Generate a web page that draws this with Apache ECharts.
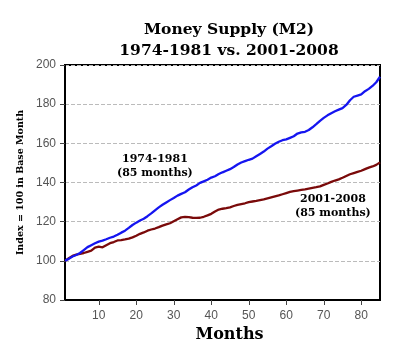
<!DOCTYPE html>
<html>
<head>
<meta charset="utf-8">
<script src="https://cdn.jsdelivr.net/npm/echarts@6/dist/echarts.min.js"></script>
<style>
  html, body { margin: 0; padding: 0; background: #fff; }
  #chart { width: 400px; height: 352px; }
</style>
</head>
<body>
<div id="chart"></div>
<script>
// 月份 1..85
const months = Array.from({ length: 85 }, (_, i) => i + 1)

// 1974-1981 (蓝线)
const m2_1974 = [
  100.0, 101.0, 102.2, 103.0, 104.0, 105.5, 107.0, 108.0, 109.0, 109.8,
  110.3, 111.0, 111.8, 112.4, 113.3, 114.4, 115.4, 116.8, 118.3, 119.5,
  120.6, 121.5, 122.8, 124.2, 125.8, 127.3, 128.6, 129.8, 131.0, 132.1,
  133.3, 134.2, 135.0, 136.4, 137.6, 138.5, 139.8, 140.6, 141.4, 142.5,
  143.2, 144.3, 145.2, 146.0, 146.8, 147.9, 149.2, 150.2, 150.9, 151.6,
  152.2, 153.4, 154.6, 155.8, 157.3, 158.5, 159.8, 160.8, 161.6, 162.0,
  162.8, 163.6, 165.0, 165.6, 165.9, 166.8, 168.2, 169.8, 171.5, 173.0,
  174.3, 175.4, 176.4, 177.2, 178.0, 179.6, 182.0, 183.8, 184.4, 185.0,
  186.6, 187.8, 189.3, 191.2, 194.0
]

// 2001-2008 (红线)
const m2_2001 = [
  100.0, 101.3, 102.5, 103.2, 103.6, 104.0, 104.6, 105.2, 106.8, 107.2,
  106.9, 108.0, 109.0, 109.6, 110.4, 110.6, 110.9, 111.3, 112.0, 112.8,
  113.8, 114.5, 115.4, 116.0, 116.5, 117.2, 118.0, 118.6, 119.2, 120.2,
  121.2, 122.2, 122.5, 122.3, 122.0, 121.9, 122.0, 122.5, 123.2, 124.0,
  125.2, 126.2, 126.6, 126.9, 127.3, 128.0, 128.6, 129.0, 129.4, 130.0,
  130.3, 130.6, 131.0, 131.4, 131.9, 132.4, 132.9, 133.4, 134.0, 134.6,
  135.2, 135.6, 135.9, 136.2, 136.5, 136.9, 137.3, 137.6, 138.0, 138.8,
  139.5, 140.3, 141.0, 141.6, 142.4, 143.3, 144.2, 144.8, 145.4, 146.0,
  146.8, 147.6, 148.2, 149.0, 150.3
]

const xTicks = [10, 20, 30, 40, 50, 60, 70, 80]

const serif = '"DejaVu Serif", serif'

let option = {
  animation: false,
  title: {
    text: 'Money Supply (M2)\n1974-1981 vs. 2001-2008',
    left: 224,
    top: 14,
    textAlign: 'center',
    textStyle: {
      fontFamily: serif,
      fontWeight: 'bold',
      fontSize: 15.5,
      lineHeight: 21,
      color: '#000',
    },
  },
  grid: {
    left: 65,
    right: 20,
    top: 65,
    bottom: 52,
    show: true,
    borderColor: '#000',
    borderWidth: 2,
  },
  xAxis: {
    type: 'value',
    min: 1,
    max: 85,
    name: 'Months',
    nameLocation: 'middle',
    nameGap: 26,
    nameTextStyle: {
      fontFamily: serif,
      fontWeight: 'bold',
      fontSize: 16,
      color: '#000',
      padding: [0, 0, 0, 14],
    },
    axisLine: { lineStyle: { color: '#000', width: 2 } },
    axisTick: {
      customValues: xTicks,
      length: 5,
      lineStyle: { color: '#444' },
    },
    axisLabel: {
      customValues: xTicks,
      fontFamily: 'Liberation Sans, Arial',
      fontSize: 12,
      color: '#555',
      margin: 10,
    },
    splitLine: { show: false },
  },
  yAxis: {
    type: 'value',
    min: 80,
    max: 200,
    interval: 20,
    name: 'Index = 100 in Base Month',
    nameLocation: 'middle',
    nameGap: 38,
    nameTextStyle: {
      fontFamily: serif,
      fontWeight: 'bold',
      fontSize: 9.5,
      color: '#000',
    },
    axisLine: { show: true, lineStyle: { color: '#000', width: 2 } },
    axisTick: { show: true, length: 5, lineStyle: { color: '#444' } },
    axisLabel: {
      fontFamily: 'Liberation Sans, Arial',
      fontSize: 12,
      color: '#555',
      margin: 9,
    },
    splitLine: {
      show: true,
      lineStyle: { color: '#bbb', type: 'dashed', width: 1 },
    },
  },
  graphic: [
    {
      type: 'text',
      left: 117,
      top: 152,
      style: {
        text: '1974-1981\n(85 months)',
        textAlign: 'center',
        font: 'bold 11px "DejaVu Serif", serif',
        lineHeight: 14,
        fill: '#000',
        x: 32,
      },
    },
    {
      type: 'text',
      left: 295,
      top: 192,
      style: {
        text: '2001-2008\n(85 months)',
        textAlign: 'center',
        font: 'bold 11px "DejaVu Serif", serif',
        lineHeight: 14,
        fill: '#000',
        x: 40,
      },
    },
  ],
  series: [
    {
      name: '1974-1981',
      type: 'line',
      showSymbol: false,
      z: 3,
      lineStyle: { color: '#1515f0', width: 2.3 },
      data: months.map((m, i) => [m, m2_1974[i]]),
    },
    {
      name: '2001-2008',
      type: 'line',
      showSymbol: false,
      z: 2,
      lineStyle: { color: '#7a0a0a', width: 2.3 },
      data: months.map((m, i) => [m, m2_2001[i]]),
    },
  ],
}

let chart = echarts.init(document.getElementById('chart'))
chart.setOption(option)
</script>
</body>
</html>
